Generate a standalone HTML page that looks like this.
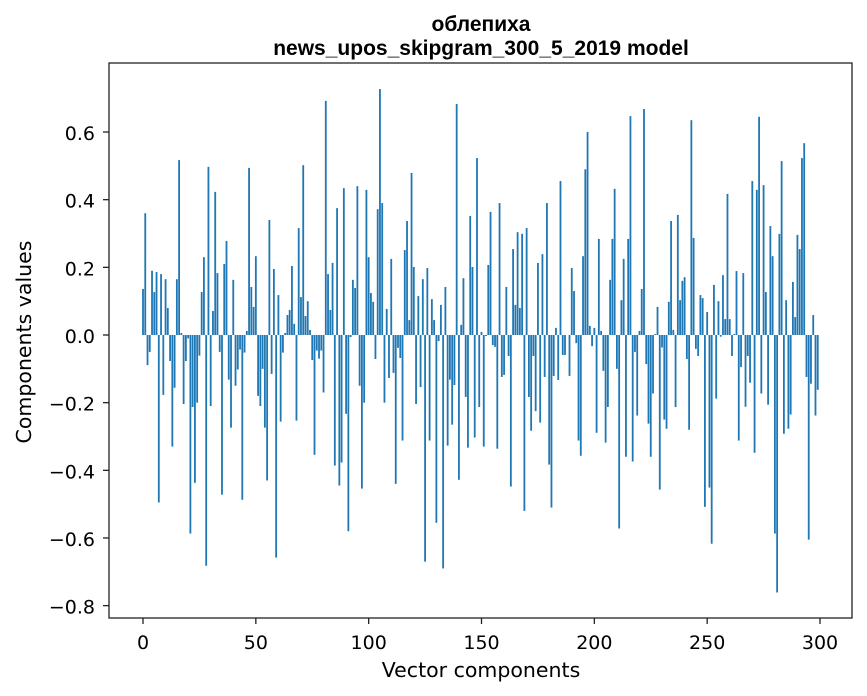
<!DOCTYPE html>
<html><head><meta charset="utf-8"><style>
body{margin:0;background:#fff}
svg{display:block;font-family:"DejaVu Sans","Liberation Sans",sans-serif}
</style></head><body>
<svg id="chart" width="867" height="696" viewBox="0 0 867 696">
<rect width="867" height="696" fill="#fff"/>
<text x="481" y="31" text-anchor="middle" font-size="21" font-weight="bold" font-family="'Liberation Sans',sans-serif">облепиха</text>
<text x="481" y="55" text-anchor="middle" font-size="21" font-weight="bold" font-family="'Liberation Sans',sans-serif">news_upos_skipgram_300_5_2019 model</text>
<g id="bars"></g>
<g id="axes"></g>
<text x="481" y="677" text-anchor="middle" font-size="20.5">Vector components</text>
<text transform="translate(31,342) rotate(-90)" text-anchor="middle" font-size="20.5">Components values</text>
</svg>
<script>
const values = [0.136,0.36,-0.089,-0.05,0.19,0.127,0.186,-0.495,0.18,-0.177,
0.165,0.08,-0.077,-0.33,-0.156,0.165,0.517,0.006,-0.204,-0.077,
-0.01,-0.587,-0.213,-0.437,-0.2,-0.061,0.127,0.23,-0.682,0.497,
-0.21,0.071,0.423,0.183,-0.05,-0.472,0.21,0.278,-0.132,-0.274,
0.163,-0.15,-0.102,-0.043,-0.487,-0.052,0.012,0.494,0.142,0.083,
0.233,-0.18,-0.21,-0.1,-0.274,-0.43,0.34,-0.115,0.195,-0.658,
0.118,-0.256,-0.052,0.006,0.059,0.074,0.204,0.033,-0.253,0.316,
0.112,0.502,0.056,0.1,0.015,-0.074,-0.354,-0.046,-0.07,-0.046,
-0.17,0.692,0.18,0.074,0.213,-0.386,0.375,-0.445,-0.377,0.434,
-0.233,-0.58,-0.006,0.163,0.139,0.44,-0.15,-0.454,-0.2,0.429,
0.23,0.124,0.098,-0.071,0.372,0.727,0.39,-0.2,0.077,-0.127,
0.225,-0.112,-0.44,-0.038,-0.068,-0.312,0.251,0.337,0.044,0.479,
0.201,-0.204,0.115,-0.154,0.165,-0.67,0.198,-0.312,0.106,0.044,
-0.555,-0.018,0.089,-0.69,0.142,-0.327,-0.132,-0.265,-0.148,0.683,
-0.428,0.03,0.168,-0.183,-0.333,0.352,0.201,-0.303,0.523,-0.213,
0.009,-0.33,-0.003,0.207,0.364,-0.03,-0.035,-0.336,0.39,-0.124,
-0.118,0.142,-0.062,-0.448,0.254,0.089,0.304,0.08,0.299,-0.52,
0.316,-0.183,-0.283,-0.062,-0.225,0.213,-0.259,0.239,-0.124,0.39,
-0.383,-0.51,-0.121,0.021,-0.133,0.455,-0.059,-0.059,0.0,-0.121,
0.198,0.13,-0.024,-0.312,-0.357,0.233,0.49,0.6,0.027,-0.033,
0.021,-0.289,0.284,0.012,-0.106,-0.318,-0.213,0.163,0.284,0.432,
-0.1,-0.572,0.103,0.225,-0.36,0.284,0.647,-0.374,-0.05,-0.238,
0.012,0.136,0.668,-0.086,-0.262,-0.36,-0.173,0.003,0.083,-0.457,
-0.037,-0.25,-0.277,0.098,0.337,0.015,-0.213,0.355,0.103,0.16,
0.171,-0.071,-0.28,0.635,0.287,-0.041,-0.062,0.118,0.109,-0.508,
0.068,-0.451,-0.617,0.148,-0.188,0.1,-0.005,0.177,0.047,0.417,
0.047,-0.062,0.003,0.189,-0.312,-0.095,0.183,-0.212,-0.062,-0.141,
0.455,-0.348,0.429,0.645,-0.173,0.443,0.127,-0.206,0.322,0.233,
-0.587,-0.761,0.299,0.514,-0.292,0.103,-0.277,-0.235,0.157,0.053,
0.296,0.254,0.523,0.567,-0.124,-0.605,-0.144,0.059,-0.238,-0.162];
const xTicks = [0,50,100,150,200,250,300];
const yTicks = [-0.8,-0.6,-0.4,-0.2,0.0,0.2,0.4,0.6];

const NS = "http://www.w3.org/2000/svg";
const L=109,R=852,T=63,B=618;
const xs = v => 143 + v*(677/300);
const ys = v => 335 - v*338.3;
const bars = document.getElementById('bars');
values.forEach((v,i)=>{
  const r=document.createElementNS(NS,'rect');
  const y0=ys(Math.max(v,0)), y1=ys(Math.min(v,0));
  r.setAttribute('x',xs(i-0.4));
  r.setAttribute('y',y0);
  r.setAttribute('width',0.8*677/300);
  r.setAttribute('height',Math.max(y1-y0,0));
  r.setAttribute('fill','#1f77b4');
  
  
  bars.appendChild(r);
});
const axes=document.getElementById('axes');
const frame=document.createElementNS(NS,'rect');
frame.setAttribute('x',L);frame.setAttribute('y',T);
frame.setAttribute('width',R-L);frame.setAttribute('height',B-T);
frame.setAttribute('fill','none');frame.setAttribute('stroke','#222');frame.setAttribute('stroke-width','1.3');


axes.appendChild(frame);
xTicks.forEach(t=>{
  const x=xs(t);
  const l=document.createElementNS(NS,'line');
  l.setAttribute('x1',x);l.setAttribute('x2',x);l.setAttribute('y1',B);l.setAttribute('y2',B+6);
  l.setAttribute('stroke','#222');l.setAttribute('stroke-width','1.3');
  
  
  axes.appendChild(l);
  const tx=document.createElementNS(NS,'text');
  tx.setAttribute('x',x);tx.setAttribute('y',B+31);tx.setAttribute('text-anchor','middle');tx.setAttribute('font-size','19');
  tx.textContent=String(t);
  
  
  axes.appendChild(tx);
});
yTicks.forEach(t=>{
  const y=ys(t);
  const l=document.createElementNS(NS,'line');
  l.setAttribute('x1',L-6);l.setAttribute('x2',L);l.setAttribute('y1',y);l.setAttribute('y2',y);
  l.setAttribute('stroke','#222');l.setAttribute('stroke-width','1.3');
  
  
  axes.appendChild(l);
  const tx=document.createElementNS(NS,'text');
  tx.setAttribute('x',L-14);tx.setAttribute('y',y+8);tx.setAttribute('text-anchor','end');tx.setAttribute('font-size','19');
  tx.textContent=(t<0?'\u2212':'')+Math.abs(t).toFixed(1);
  
  
  axes.appendChild(tx);
});
</script>
</body></html>
